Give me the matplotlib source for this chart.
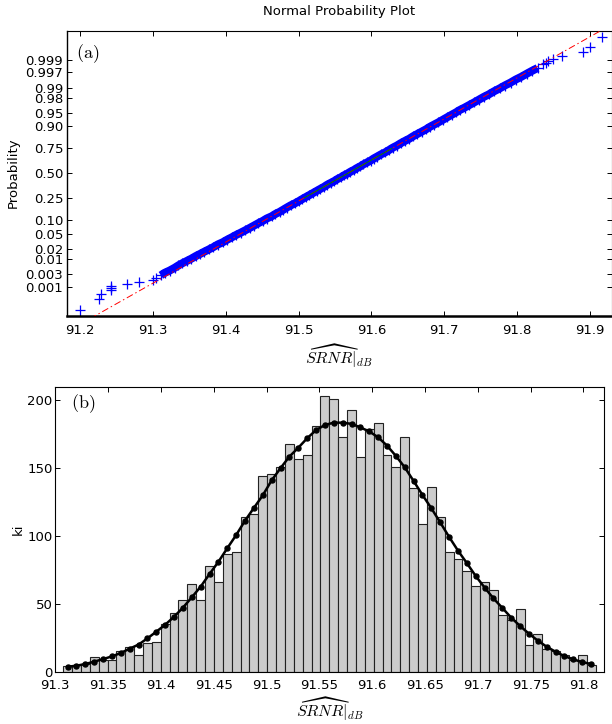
import math
import numpy as np
import matplotlib
matplotlib.use("Agg")
import matplotlib.pyplot as plt

plt.rcParams['mathtext.fontset'] = 'cm'
plt.rcParams['font.family'] = ['DejaVu Sans']

# ---------------- data: (a) normal probability plot ----------------
low_tail_p = [0.0001, 0.0003, 0.0005, 0.0007, 0.0009, 0.0011, 0.0013, 0.0015]
low_tail_x = [91.200, 91.226, 91.229, 91.242, 91.243, 91.243, 91.264, 91.281]

band_p = [0.0018, 0.0022, 0.0027, 0.0033, 0.004, 0.005, 0.006, 0.007, 0.0085, 0.01,
          0.012, 0.014, 0.016, 0.019, 0.022, 0.026, 0.03, 0.035, 0.04, 0.046,
          0.053, 0.06, 0.068, 0.077, 0.087, 0.097, 0.108, 0.12, 0.133, 0.146,
          0.16, 0.175, 0.19, 0.206, 0.222, 0.24, 0.258, 0.276, 0.295, 0.315,
          0.335, 0.355, 0.375, 0.395, 0.415, 0.435, 0.455, 0.475, 0.495, 0.515,
          0.535, 0.555, 0.575, 0.595, 0.615, 0.635, 0.655, 0.675, 0.695, 0.715,
          0.735, 0.755, 0.774, 0.792, 0.81, 0.826, 0.842, 0.857, 0.871, 0.884,
          0.896, 0.907, 0.917, 0.927, 0.936, 0.944, 0.951, 0.957, 0.963, 0.968,
          0.973, 0.977, 0.981, 0.984, 0.987, 0.9895, 0.9915, 0.9932, 0.9946, 0.9957,
          0.9966, 0.9973, 0.9979]
band_x = [91.300, 91.305, 91.311, 91.316, 91.323, 91.330, 91.335, 91.340, 91.347, 91.353,
          91.359, 91.365, 91.370, 91.377, 91.383, 91.389, 91.396, 91.402, 91.408, 91.414,
          91.421, 91.427, 91.433, 91.439, 91.445, 91.451, 91.456, 91.463, 91.468, 91.474,
          91.479, 91.484, 91.489, 91.495, 91.500, 91.505, 91.510, 91.515, 91.520, 91.525,
          91.530, 91.535, 91.539, 91.544, 91.549, 91.553, 91.558, 91.562, 91.567, 91.571,
          91.576, 91.580, 91.585, 91.589, 91.594, 91.599, 91.603, 91.608, 91.613, 91.619,
          91.624, 91.629, 91.635, 91.640, 91.646, 91.652, 91.657, 91.663, 91.669, 91.675,
          91.680, 91.686, 91.692, 91.698, 91.704, 91.710, 91.716, 91.721, 91.728, 91.734,
          91.741, 91.747, 91.754, 91.761, 91.768, 91.776, 91.783, 91.791, 91.798, 91.806,
          91.813, 91.820, 91.828]

up_tail_p = [0.9985, 0.9987, 0.9989, 0.9991, 0.9993, 0.9995, 0.9997, 0.9999]
up_tail_x = [91.835, 91.839, 91.842, 91.849, 91.861, 91.890, 91.900, 91.917]

# quartiles of the sample (reference line through them)
quart_p = [0.25, 0.75]
quart_x = [91.5076, 91.6282]

prob_ticks = [0.001, 0.003, 0.01, 0.02, 0.05, 0.10, 0.25, 0.50, 0.75, 0.90,
              0.95, 0.98, 0.99, 0.997, 0.999]
prob_tick_labels = ['0.001', '0.003', '0.01', '0.02', '0.05', '0.10', '0.25', '0.50',
                    '0.75', '0.90', '0.95', '0.98', '0.99', '0.997', '0.999']
top_xticks = [91.2, 91.3, 91.4, 91.5, 91.6, 91.7, 91.8, 91.9]

# ---------------- data: (b) histogram ----------------
hist_counts = [4, 5, 6, 11, 9, 9, 15, 18, 12, 21,
               22, 35, 43, 53, 65, 53, 78, 66, 87, 88,
               114, 116, 144, 146, 151, 168, 157, 160, 181, 203,
               201, 173, 193, 158, 179, 183, 160, 151, 173, 135,
               109, 136, 114, 88, 83, 74, 63, 66, 60, 42,
               38, 46, 20, 28, 17, 15, 12, 9, 12, 5]
fit_counts = [3.7, 4.4, 5.7, 7.4, 9.3, 11.3, 13.8, 17, 20, 24.6,
              29.5, 34.6, 40.5, 47.2, 54.8, 62.7, 72, 81, 91, 100.7,
              111.3, 120.7, 130, 141, 150, 158.5, 165, 172, 178, 181.8,
              183.5, 183.5, 182.6, 180, 177, 172.7, 166.6, 159, 150.6, 140.5,
              130.2, 120.4, 110, 99.3, 89.2, 80, 70.5, 62, 54, 47,
              39.8, 33.7, 28, 22.9, 18.4, 14.7, 11.5, 9.1, 7.1, 5.7]
hist_min = 91.3074
hist_max = 91.8114
bottom_xticks = [91.3, 91.35, 91.4, 91.45, 91.5, 91.55, 91.6, 91.65, 91.7, 91.75, 91.8]
bottom_yticks = [0, 50, 100, 150, 200]


# ---------------- normal probability scale ----------------
_a = [-3.969683028665376e+01, 2.209460984245205e+02, -2.759285104469687e+02,
      1.383577518672690e+02, -3.066479806614716e+01, 2.506628277459239e+00]
_b = [-5.447609879822406e+01, 1.615858368580409e+02, -1.556989798598866e+02,
      6.680131188771972e+01, -1.328068155288572e+01]
_c = [-7.784894002430293e-03, -3.223964580411365e-01, -2.400758277161838e+00,
      -2.549671010115146e+00, 4.374664141464968e+00, 2.938163982698783e+00]
_d = [7.784695709041462e-03, 3.224671290700398e-01, 2.445134137142996e+00,
      3.754408661907416e+00]


def norm_ppf(p):
    p = np.asarray(p, dtype=float)
    shape = p.shape
    p = np.clip(np.atleast_1d(p).ravel(), 1e-15, 1 - 1e-15)
    z = np.empty_like(p)
    lo = p < 0.02425
    hi = p > 1 - 0.02425
    mid = ~(lo | hi)
    q = np.sqrt(-2 * np.log(p[lo]))
    z[lo] = (((((_c[0]*q+_c[1])*q+_c[2])*q+_c[3])*q+_c[4])*q+_c[5]) / \
            ((((_d[0]*q+_d[1])*q+_d[2])*q+_d[3])*q+1)
    q = np.sqrt(-2 * np.log(1 - p[hi]))
    z[hi] = -(((((_c[0]*q+_c[1])*q+_c[2])*q+_c[3])*q+_c[4])*q+_c[5]) / \
             ((((_d[0]*q+_d[1])*q+_d[2])*q+_d[3])*q+1)
    q = p[mid] - 0.5
    r = q * q
    z[mid] = (((((_a[0]*r+_a[1])*r+_a[2])*r+_a[3])*r+_a[4])*r+_a[5])*q / \
             (((((_b[0]*r+_b[1])*r+_b[2])*r+_b[3])*r+_b[4])*r+1)
    return z.reshape(shape)


_erf = np.vectorize(math.erf)


def norm_cdf(z):
    z = np.asarray(z, dtype=float)
    return 0.5 * (1.0 + _erf(z / math.sqrt(2.0)))


# ---------------- figure ----------------
fig = plt.figure(figsize=(6.12, 7.24), dpi=100)

FS = 9.5

# ---- (a)
ax1 = fig.add_axes([0.110, 0.564, 0.8895, 0.3936])
ax1.set_yscale('function', functions=(norm_ppf, norm_cdf))

mk = dict(linestyle='none', marker='+', color='blue', markersize=6.5, markeredgewidth=0.9)
# dense body of the sample: thousands of overlapping '+' markers form a solid band
ax1.plot(band_x[2:], band_p[2:], color='blue', lw=5.8, solid_capstyle='butt', zorder=2)
ax1.plot(band_x, band_p, zorder=2, **mk)
ax1.plot(low_tail_x, low_tail_p, zorder=2, **mk)
ax1.plot(up_tail_x, up_tail_p, zorder=2, **mk)

zq = norm_ppf(quart_p)
line_x = np.array([91.18, 91.93])
line_z = zq[0] + (line_x - quart_x[0]) / (quart_x[1] - quart_x[0]) * (zq[1] - zq[0])
ax1.plot(line_x, norm_cdf(line_z), color='red', lw=0.7, linestyle=(0, (7, 3, 1.5, 3)), zorder=4)
ax1.plot(quart_x, quart_p, color='#008000', lw=0.7, zorder=5)

ax1.set_xlim(91.1826, 91.9298)
ax1.set_ylim(float(norm_cdf(-3.88)), float(norm_cdf(3.88)))
ax1.set_yticks(prob_ticks)
ax1.set_yticklabels(prob_tick_labels)
ax1.yaxis.set_minor_locator(matplotlib.ticker.NullLocator())
ax1.set_xticks(top_xticks)
ax1.set_xticklabels(['%g' % t for t in top_xticks])
ax1.tick_params(direction='in', length=3.5, width=0.7, labelsize=FS, top=True, right=True,
                pad=3)
ax1.tick_params(axis='x', pad=6)
for s in ['top', 'right']:
    ax1.spines[s].set_linewidth(0.8)
ax1.spines['left'].set_linewidth(1.0)
ax1.spines['bottom'].set_linewidth(1.8)
ax1.set_title('Normal Probability Plot', fontsize=FS, pad=11)
ax1.set_ylabel('Probability', fontsize=FS, labelpad=4)
ax1.set_xlabel(r'$\widehat{SRNR}|_{dB}$', fontsize=11.5, labelpad=4)
ax1.text(0.016, 0.958, r'$\mathrm{(a)}$', transform=ax1.transAxes, ha='left', va='top',
         fontsize=13)

# ---- (b)
ax2 = fig.add_axes([0.0904, 0.0722, 0.897, 0.3937])
edges = np.linspace(hist_min, hist_max, len(hist_counts) + 1)
centers = 0.5 * (edges[:-1] + edges[1:])
ax2.bar(edges[:-1], hist_counts, width=np.diff(edges), align='edge',
        facecolor='#cccccc', edgecolor='#222222', linewidth=0.8, zorder=2)
ax2.plot(centers, fit_counts, color='black', lw=1.8, marker='o', markersize=3.6,
         zorder=3)
ax2.set_xlim(91.3, 91.8197)
ax2.set_ylim(0, 210)
ax2.set_xticks(bottom_xticks)
ax2.set_xticklabels(['%g' % t for t in bottom_xticks])
ax2.set_yticks(bottom_yticks)
ax2.tick_params(direction='in', length=3.5, width=0.7, labelsize=FS, top=True, right=True,
                pad=2)
ax2.tick_params(axis='x', pad=5)
for s in ax2.spines.values():
    s.set_linewidth(0.8)
ax2.set_ylabel('ki', fontsize=FS, labelpad=2)
ax2.set_xlabel(r'$\widehat{SRNR}|_{dB}$', fontsize=11.5, labelpad=3)
ax2.text(0.029, 0.982, r'$\mathrm{(b)}$', transform=ax2.transAxes, ha='left', va='top',
         fontsize=13)

fig.savefig('out.png', dpi=100)
